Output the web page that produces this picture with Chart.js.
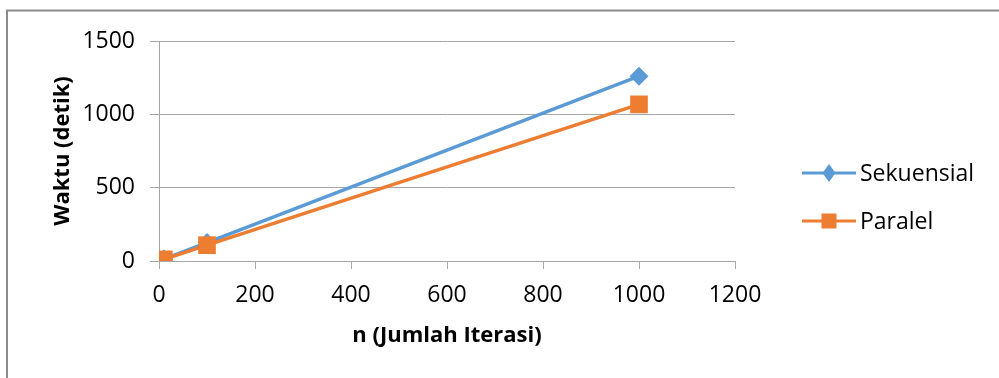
<!DOCTYPE html>
<html>
<head>
<meta charset="utf-8">
<script src="https://cdn.jsdelivr.net/npm/chart.js@4/dist/chart.umd.min.js"></script>
<style>
  html, body { margin: 0; padding: 0; background: #ffffff; }
  #wrap { position: relative; width: 999px; height: 378px; }
</style>
</head>
<body>
<div id="wrap"><canvas id="c" width="999" height="378"></canvas></div>
<script>
// Iteration counts and measured run times (seconds)
const iterations = [10, 100, 1000];
const sekuensial = [13, 126, 1260];
const paralel = [11, 108, 1068];

const xTicks = [0, 200, 400, 600, 800, 1000, 1200];
const yTicks = [0, 500, 1000, 1500];

const seriesNames = ['Sekuensial', 'Paralel'];
const xTitle = 'n (Jumlah Iterasi)';
const yTitle = 'Waktu (detik)';

const BLUE = '#5B9BD5';
const ORANGE = '#ED7D31';
const GRID = '#A6A6A6';
const FONT = "'Open Sans', 'DejaVu Sans', sans-serif";

const toPoints = (xs, ys) => xs.map((x, i) => ({ x: x, y: ys[i] }));
const plainNumber = v => String(v);

// Outer frame around the whole chart object
const framePlugin = {
  id: 'frame',
  beforeDraw(chart) {
    const ctx = chart.ctx;
    ctx.save();
    ctx.fillStyle = '#ffffff';
    ctx.fillRect(0, 0, chart.width, chart.height);
    ctx.strokeStyle = '#8C8C8C';
    ctx.lineWidth = 2;
    ctx.strokeRect(7, 10.5, chart.width + 20, chart.height + 20);
    ctx.restore();
  }
};

// Legend on the right: line segment with the series marker, then the name
const sideLegend = {
  id: 'sideLegend',
  afterDraw(chart) {
    const ctx = chart.ctx;
    const rows = [
      { y: 173, color: BLUE, marker: 'diamond', text: seriesNames[0] },
      { y: 221, color: ORANGE, marker: 'square', text: seriesNames[1] }
    ];
    ctx.save();
    rows.forEach(r => {
      ctx.strokeStyle = r.color;
      ctx.lineWidth = 3;
      ctx.beginPath();
      ctx.moveTo(802, r.y);
      ctx.lineTo(856, r.y);
      ctx.stroke();
      ctx.fillStyle = r.color;
      ctx.beginPath();
      const cx = 829;
      if (r.marker === 'diamond') {
        ctx.moveTo(cx, r.y - 9);
        ctx.lineTo(cx + 6.5, r.y);
        ctx.lineTo(cx, r.y + 9);
        ctx.lineTo(cx - 6.5, r.y);
        ctx.closePath();
      } else {
        ctx.rect(cx - 7.5, r.y - 7.5, 15, 15);
      }
      ctx.fill();
      ctx.fillStyle = '#000000';
      ctx.font = '23px ' + FONT;
      ctx.textAlign = 'left';
      ctx.textBaseline = 'middle';
      ctx.fillText(r.text, 860, r.y + 1);
    });
    ctx.restore();
  }
};

new Chart(document.getElementById('c'), {
  type: 'scatter',
  data: {
    datasets: [
      {
        label: seriesNames[0],
        data: toPoints(iterations, sekuensial),
        showLine: true,
        borderColor: BLUE,
        backgroundColor: BLUE,
        borderWidth: 3.5,
        pointStyle: 'rectRot',
        pointRadius: 9.5,
        pointHoverRadius: 9.5,
        pointBorderWidth: 0,
        order: 1
      },
      {
        label: seriesNames[1],
        data: toPoints(iterations, paralel),
        showLine: true,
        borderColor: ORANGE,
        backgroundColor: ORANGE,
        borderWidth: 3.5,
        pointStyle: 'rect',
        pointRadius: 12.5,
        pointHoverRadius: 12.5,
        pointBorderWidth: 0,
        order: 0
      }
    ]
  },
  options: {
    responsive: false,
    animation: false,
    events: [],
    layout: { padding: { top: 41, left: 0, right: 264, bottom: 0 } },
    plugins: {
      legend: { display: false },
      tooltip: { enabled: false }
    },
    scales: {
      x: {
        type: 'linear',
        min: 0,
        max: 1200,
        afterBuildTicks(scale) { scale.ticks = xTicks.map(v => ({ value: v })); },
        afterFit(scale) { scale.height = 117; },
        grid: {
          drawOnChartArea: false,
          drawTicks: true,
          tickLength: 8,
          color: GRID,
          lineWidth: 1
        },
        border: { display: true, color: GRID, width: 1 },
        ticks: {
          color: '#000000',
          font: { family: FONT, size: 23 },
          padding: 13,
          maxRotation: 0,
          callback: plainNumber
        },
        title: {
          display: true,
          text: xTitle,
          color: '#000000',
          font: { family: FONT, size: 22, weight: 'bold' },
          padding: { top: 0, bottom: 29 }
        }
      },
      y: {
        type: 'linear',
        min: 0,
        max: 1500,
        afterBuildTicks(scale) { scale.ticks = yTicks.map(v => ({ value: v })); },
        afterFit(scale) { scale.width = 159; },
        grid: {
          drawOnChartArea: true,
          drawTicks: true,
          tickLength: 9,
          color: GRID,
          lineWidth: 1
        },
        border: { display: true, color: GRID, width: 1 },
        ticks: {
          color: '#000000',
          font: { family: FONT, size: 23 },
          padding: 15,
          callback: plainNumber
        },
        title: {
          display: true,
          text: yTitle,
          color: '#000000',
          font: { family: FONT, size: 22, weight: 'bold' },
          padding: { top: 50, bottom: 0 }
        }
      }
    }
  },
  plugins: [framePlugin, sideLegend]
});
</script>
</body>
</html>
